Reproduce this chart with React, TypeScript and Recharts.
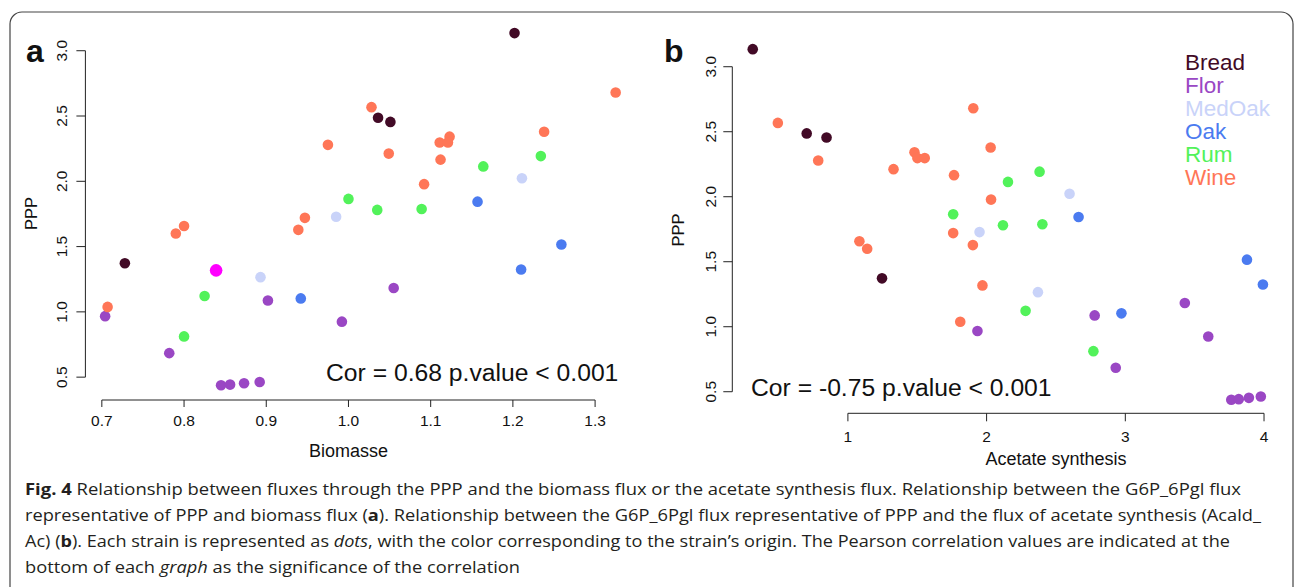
import React from 'react';
import { ScatterChart, Scatter, XAxis, YAxis, ReferenceLine } from 'recharts';

// strain origins and their colours
const groups = ['Bread', 'Flor', 'MedOak', 'Oak', 'Rum', 'Wine'];
const groupColors = ['#420a26', '#9a47c4', '#c9d3f9', '#4b7bf0', '#52f25a', '#ff7657'];
const highlightColor = '#ff00ff';

// PPP flux (G6P_6Pgl) per strain, shared by both panels
const breadPPP = [3.135, 2.487, 2.455, 1.372];
const breadBiomass = [1.202, 1.036, 1.051, 0.728];
const breadAcetate = [0.314, 0.703, 0.846, 1.246];

const florPPP = [1.183, 1.087, 0.967, 0.925, 0.684, 0.438, 0.443, 0.453, 0.463];
const florBiomass = [1.055, 0.902, 0.704, 0.992, 0.782, 0.845, 0.856, 0.873, 0.892];
const florAcetate = [3.429, 2.779, 1.934, 3.598, 2.931, 3.764, 3.818, 3.891, 3.977];

const medOakPPP = [2.023, 1.728, 1.266];
const medOakBiomass = [1.211, 0.985, 0.893];
const medOakAcetate = [2.598, 1.949, 2.37];

const oakPPP = [1.844, 1.516, 1.325, 1.103];
const oakBiomass = [1.157, 1.259, 1.21, 0.942];
const oakAcetate = [2.663, 3.877, 3.992, 2.972];

const rumPPP = [2.114, 2.193, 1.865, 1.781, 1.788, 1.122, 0.812];
const rumBiomass = [1.164, 1.234, 1.0, 1.035, 1.089, 0.825, 0.8];
const rumAcetate = [2.154, 2.382, 1.759, 2.118, 2.402, 2.281, 2.77];

const winePPP = [2.68, 2.568, 2.379, 2.342, 2.297, 2.297, 2.279, 2.212, 2.166, 1.978, 1.72, 1.658, 1.628, 1.6, 1.318, 1.038];
const wineBiomass = [1.325, 1.028, 1.238, 1.123, 1.111, 1.121, 0.975, 1.049, 1.112, 1.092, 0.947, 0.8, 0.939, 0.79, 0.839, 0.707];
const wineAcetate = [1.904, 0.495, 2.029, 1.48, 1.501, 1.554, 0.786, 1.329, 1.765, 2.032, 1.759, 1.083, 1.901, 1.139, 1.97, 1.81];

// wine strain drawn in magenta on panel a
const highlightedWine = 14;

const pppTicks = [0.5, 1.0, 1.5, 2.0, 2.5, 3.0];
const biomassTicks = [0.7, 0.8, 0.9, 1.0, 1.1, 1.2, 1.3];
const acetateTicks = [1, 2, 3, 4];

const pppGroups = [breadPPP, florPPP, medOakPPP, oakPPP, rumPPP, winePPP];
const biomassGroups = [breadBiomass, florBiomass, medOakBiomass, oakBiomass, rumBiomass, wineBiomass];
const acetateGroups = [breadAcetate, florAcetate, medOakAcetate, oakAcetate, rumAcetate, wineAcetate];

const pair = (xs: number[], ys: number[]) => xs.map((x, i) => ({ x, y: ys[i] }));

const FONT = '"Liberation Sans", Arial, Helvetica, sans-serif';
const INK = '#111';

const dot = (color: string, r = 5.3) => (props: any) => (
  <circle cx={props.cx} cy={props.cy} r={r} fill={color} />
);

const makeXTick = (dy: number, digits: number) => (props: any) => (
  <text x={props.x} y={props.y + dy} textAnchor="middle" fontSize={15.5} fontFamily={FONT} fill={INK}>
    {Number(props.payload.value).toFixed(digits)}
  </text>
);

const makeYTick = (gap: number) => (props: any) => {
  const bx = props.x - gap;
  return (
    <text
      x={bx}
      y={props.y}
      transform={`rotate(-90 ${bx} ${props.y})`}
      textAnchor="middle"
      fontSize={15.5}
      fontFamily={FONT}
      fill={INK}
    >
      {Number(props.payload.value).toFixed(1)}
    </text>
  );
};

const PanelA = () => {
  const xDomain = [0.68, 1.35];
  const yDomain = [0.325, 3.243];
  return (
    <ScatterChart width={650} height={470} margin={{ top: 19, right: 13.8, bottom: 30, left: 45.4 }}>
      <XAxis
        type="number"
        dataKey="x"
        domain={xDomain}
        allowDataOverflow
        ticks={biomassTicks}
        interval={0}
        axisLine={false}
        tickLine={{ stroke: '#222' }}
        tickSize={7}
        tickMargin={0}
        height={40}
        tick={makeXTick(18.7, 1)}
      />
      <YAxis
        type="number"
        dataKey="y"
        domain={yDomain}
        allowDataOverflow
        ticks={pppTicks}
        interval={0}
        axisLine={false}
        tickLine={{ stroke: '#222' }}
        tickSize={9}
        tickMargin={0}
        width={40}
        tick={makeYTick(9.4)}
      />
      <ReferenceLine segment={[{ x: 0.7, y: yDomain[0] }, { x: 1.3, y: yDomain[0] }]} stroke="#222" ifOverflow="visible" />
      <ReferenceLine segment={[{ x: xDomain[0], y: 0.5 }, { x: xDomain[0], y: 3.0 }]} stroke="#222" ifOverflow="visible" />
      {groups.map((g, gi) => {
        let pts = pair(biomassGroups[gi], pppGroups[gi]);
        if (g === 'Wine') pts = pts.filter((_, i) => i !== highlightedWine);
        return <Scatter key={g} name={g} data={pts} shape={dot(groupColors[gi])} isAnimationActive={false} />;
      })}
      <Scatter
        name="highlight"
        data={[{ x: wineBiomass[highlightedWine], y: winePPP[highlightedWine] }]}
        shape={dot(highlightColor, 6.3)}
        isAnimationActive={false}
      />
    </ScatterChart>
  );
};

const PanelB = () => {
  const xDomain = [0.1666, 4.139];
  const yDomain = [0.334, 3.244];
  return (
    <ScatterChart width={645} height={470} margin={{ top: 35, right: 11.7, bottom: 16.7, left: 42.3 }}>
      <XAxis
        type="number"
        dataKey="x"
        domain={xDomain}
        allowDataOverflow
        ticks={acetateTicks}
        interval={0}
        axisLine={false}
        tickLine={{ stroke: '#222' }}
        tickSize={8}
        tickMargin={0}
        height={40}
        tick={makeXTick(20.4, 0)}
      />
      <YAxis
        type="number"
        dataKey="y"
        domain={yDomain}
        allowDataOverflow
        ticks={pppTicks}
        interval={0}
        axisLine={false}
        tickLine={{ stroke: '#222' }}
        tickSize={9}
        tickMargin={0}
        width={40}
        tick={makeYTick(7.5)}
      />
      <ReferenceLine segment={[{ x: 1, y: yDomain[0] }, { x: 4, y: yDomain[0] }]} stroke="#222" ifOverflow="visible" />
      <ReferenceLine segment={[{ x: xDomain[0], y: 0.5 }, { x: xDomain[0], y: 3.0 }]} stroke="#222" ifOverflow="visible" />
      {groups.map((g, gi) => (
        <Scatter
          key={g}
          name={g}
          data={pair(acetateGroups[gi], pppGroups[gi])}
          shape={dot(groupColors[gi])}
          isAnimationActive={false}
        />
      ))}
    </ScatterChart>
  );
};

const CAPTION_FONT = '"Open Sans", "Noto Sans", sans-serif';

const Overlay = () => (
  <svg width={1295} height={587} style={{ position: 'absolute', left: 0, top: 0, pointerEvents: 'none' }}>
    <rect x={10} y={12} width={1283} height={600} rx={12} fill="none" stroke="#444" strokeWidth={1.2} />

    <text x={26} y={62} fontSize={32} fontWeight={700} fontFamily={FONT} fill={INK}>a</text>
    <text x={664} y={62} fontSize={32} fontWeight={700} fontFamily={FONT} fill={INK}>b</text>

    <text x={37.3} y={213.5} transform="rotate(-90 37.3 213.5)" textAnchor="middle" fontSize={16.5} fontFamily={FONT} fill={INK}>PPP</text>
    <text x={683.8} y={230} transform="rotate(-90 683.8 230)" textAnchor="middle" fontSize={16.5} fontFamily={FONT} fill={INK}>PPP</text>
    <text x={348.6} y={457} textAnchor="middle" fontSize={18} fontFamily={FONT} fill={INK}>Biomasse</text>
    <text x={1056} y={465} textAnchor="middle" fontSize={18} fontFamily={FONT} fill={INK}>Acetate synthesis</text>

    <text x={326} y={380.7} fontSize={24.7} fontFamily={FONT} fill={INK}>Cor = 0.68 p.value &lt; 0.001</text>
    <text x={751} y={396} fontSize={24.7} fontFamily={FONT} fill={INK}>Cor = -0.75 p.value &lt; 0.001</text>

    {groups.map((g, i) => (
      <text key={g} x={1185} y={70 + i * 23} fontSize={22.5} fontFamily={FONT} fill={groupColors[i]}>{g}</text>
    ))}

    <g fontFamily={CAPTION_FONT} fontSize={16.5} fill="#231f20">
      <text x={25} y={495} textLength={1216} lengthAdjust="spacingAndGlyphs">
        <tspan fontWeight={700}>Fig. 4</tspan>
        {'  Relationship between fluxes through the PPP and the biomass flux or the acetate synthesis flux. Relationship between the G6P_6Pgl flux'}
      </text>
      <text x={25} y={521} textLength={1236} lengthAdjust="spacingAndGlyphs">
        {'representative of PPP and biomass flux ('}
        <tspan fontWeight={700}>a</tspan>
        {'). Relationship between the G6P_6Pgl flux representative of PPP and the flux of acetate synthesis (Acald_'}
      </text>
      <text x={25} y={547} textLength={1205} lengthAdjust="spacingAndGlyphs">
        {'Ac) ('}
        <tspan fontWeight={700}>b</tspan>
        {'). Each strain is represented as '}
        <tspan fontStyle="italic">dots</tspan>
        {', with the color corresponding to the strain\u2019s origin. The Pearson correlation values are indicated at the'}
      </text>
      <text x={25} y={573} textLength={495} lengthAdjust="spacingAndGlyphs">
        {'bottom of each '}
        <tspan fontStyle="italic">graph</tspan>
        {' as the significance of the correlation'}
      </text>
    </g>
  </svg>
);

export default function App() {
  return (
    <div style={{ position: 'absolute', left: 0, top: 0, width: 1295, height: 587, overflow: 'hidden', background: '#fff' }}>
      <div style={{ position: 'absolute', left: 0, top: 0 }}>
        <PanelA />
      </div>
      <div style={{ position: 'absolute', left: 650, top: 0 }}>
        <PanelB />
      </div>
      <Overlay />
    </div>
  );
}
